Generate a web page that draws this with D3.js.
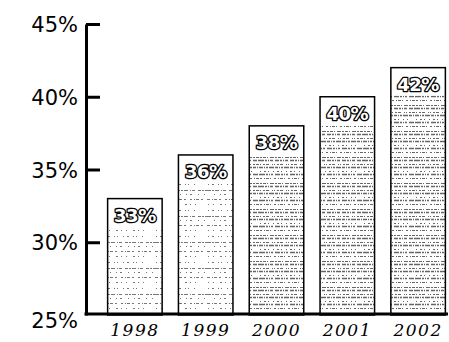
<!DOCTYPE html>
<html>
<head>
<meta charset="utf-8">
<script src="https://cdn.jsdelivr.net/npm/d3@7/dist/d3.min.js"></script>
<style>
  html, body { margin: 0; padding: 0; background: #fff; }
  svg { display: block; }
</style>
</head>
<body>
<svg id="chart" width="449" height="342"></svg>
<script>
// Share by year
const years = ["1998", "1999", "2000", "2001", "2002"];
const shares = [33, 36, 38, 40, 42];
const valueLabels = ["33%", "36%", "38%", "40%", "42%"];
const yTicks = [25, 30, 35, 40, 45];
const yTickLabels = ["25%", "30%", "35%", "40%", "45%"];
// print texture density for each bar (0 = light, 1 = dense)
const textureLevel = [0, 0, 1, 1, 1];

const svg = d3.select("#chart");

const x = d3.scaleBand()
  .domain(years)
  .range([97, 456])
  .paddingInner(0.23)
  .paddingOuter(0.15);

const y = d3.scaleLinear()
  .domain([25, 45])
  .range([315, 24]);

// newsprint-like texture: rows of short broken strokes
const defs = svg.append("defs");
function makePattern(id, rows, color) {
  const p = defs.append("pattern")
    .attr("id", id)
    .attr("patternUnits", "userSpaceOnUse")
    .attr("width", 52)
    .attr("height", 26);
  p.append("rect").attr("width", 52).attr("height", 26).attr("fill", "#fff");
  rows.forEach(r => {
    p.append("line")
      .attr("x1", r.x0 || 0).attr("x2", r.x1 || 52)
      .attr("y1", r.y).attr("y2", r.y)
      .attr("stroke", color)
      .attr("stroke-width", r.w)
      .attr("stroke-dasharray", r.d);
  });
}
makePattern("tex-light", [
  { y: 2.5, w: 1, d: "1 3 2 4 1 2 1 5", x1: 40 },
  { y: 8.5, w: 1, d: "3 1 2 1 4 2 1 1 3 3" },
  { y: 12.5, w: 1, d: "1 5 1 3 2 6", x0: 6 },
  { y: 17.5, w: 1, d: "2 2 1 1 3 2 2 4" },
  { y: 22.5, w: 1, d: "1 4 1 6 2 3", x1: 46 }
], "#777");
makePattern("tex-dense", [
  { y: 1.5, w: 1, d: "2 1 3 1 1 2 4 1" },
  { y: 4.5, w: 1.3, d: "4 1 2 1 1 1 3 2" },
  { y: 8.5, w: 1, d: "1 2 2 1 3 3 1 1" },
  { y: 11.5, w: 1.3, d: "3 1 1 1 2 1 5 1" },
  { y: 15.5, w: 1, d: "1 3 2 2 1 4", x1: 44 },
  { y: 18.5, w: 1.3, d: "5 1 2 1 1 1 2 2" },
  { y: 22.5, w: 1, d: "2 2 1 1 3 1 1 3" }
], "#666");

const bars = svg.append("g");

// textured bars
bars.selectAll("rect.bar")
  .data(years)
  .join("rect")
  .attr("class", "bar")
  .attr("x", d => x(d))
  .attr("y", (d, i) => y(shares[i]))
  .attr("width", x.bandwidth())
  .attr("height", (d, i) => y(25) - y(shares[i]))
  .attr("fill", (d, i) => textureLevel[i] ? "url(#tex-dense)" : "url(#tex-light)");

// clear area behind each value label
bars.selectAll("rect.label-bg")
  .data(years)
  .join("rect")
  .attr("class", "label-bg")
  .attr("x", d => x(d))
  .attr("y", (d, i) => y(shares[i]))
  .attr("width", x.bandwidth())
  .attr("height", 28)
  .attr("fill", "#fff");

// bar outlines
bars.selectAll("rect.outline")
  .data(years)
  .join("rect")
  .attr("class", "outline")
  .attr("x", d => x(d))
  .attr("y", (d, i) => y(shares[i]))
  .attr("width", x.bandwidth())
  .attr("height", (d, i) => y(25) - y(shares[i]))
  .attr("fill", "none")
  .attr("stroke", "#000")
  .attr("stroke-width", 1.5);

// value labels (hollow outlined lettering)
svg.append("g").selectAll("text")
  .data(years)
  .join("text")
  .attr("x", d => x(d) + x.bandwidth() / 2)
  .attr("y", (d, i) => y(shares[i]) + 23)
  .attr("text-anchor", "middle")
  .attr("font-family", "DejaVu Sans, sans-serif")
  .attr("font-weight", "bold")
  .attr("font-size", 18)
  .attr("fill", "#fff")
  .attr("stroke", "#000")
  .attr("stroke-width", 2.6)
  .attr("stroke-linejoin", "round")
  .attr("paint-order", "stroke")
  .attr("letter-spacing", -0.5)
  .text((d, i) => valueLabels[i]);

// y axis
const yAxis = d3.axisLeft(y)
  .tickValues(yTicks)
  .tickFormat((d, i) => yTickLabels[i])
  .tickSize(0)
  .tickPadding(8);
const gy = svg.append("g")
  .attr("transform", "translate(86,0)")
  .call(yAxis);
gy.select(".domain").attr("stroke", "#000").attr("stroke-width", 3);
gy.selectAll("text")
  .attr("font-family", "DejaVu Sans, sans-serif")
  .attr("font-size", 21)
  .attr("fill", "#000")
  .attr("dy", d => d === 25 ? "0.58em" : "0.36em");
// tick marks on the inside of the axis
gy.selectAll(".tick")
  .filter(d => d > 25)
  .append("line")
  .attr("x1", 0).attr("x2", 14)
  .attr("stroke", "#000")
  .attr("stroke-width", 3);

// baseline
svg.append("line")
  .attr("x1", 84.5).attr("x2", 448)
  .attr("y1", y(25) - 1).attr("y2", y(25) - 1)
  .attr("stroke", "#000")
  .attr("stroke-width", 3);

// x axis labels
const xAxis = d3.axisBottom(x).tickSize(0).tickPadding(0);
const gx = svg.append("g")
  .attr("transform", `translate(0,${y(25)})`)
  .call(xAxis);
gx.select(".domain").remove();
gx.selectAll("text")
  .attr("dy", 0)
  .attr("y", 21)
  .attr("font-family", "DejaVu Serif, serif")
  .attr("font-style", "italic")
  .attr("font-size", 17)
  .attr("letter-spacing", 1.5)
  .attr("fill", "#000");
</script>
</body>
</html>
